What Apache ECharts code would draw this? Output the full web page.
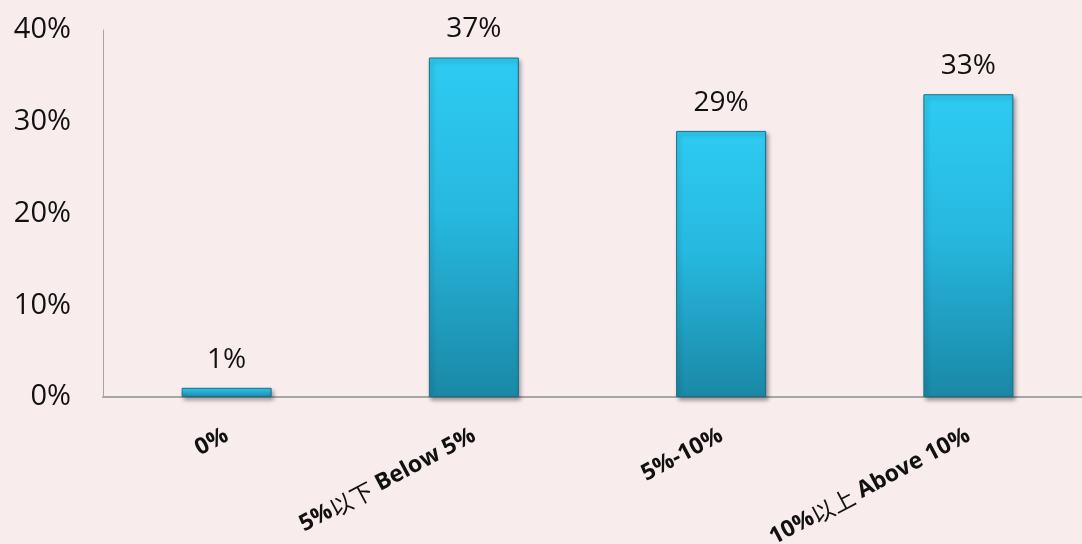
<!DOCTYPE html>
<html lang="zh">
<head>
    <meta charset="UTF-8">
    <title>Bar chart</title>
    <script src="https://cdn.jsdelivr.net/npm/echarts@6/dist/echarts.min.js"></script>
    <style>
        html, body { margin: 0; padding: 0; background: #f9eced; }
        #pic { width: 1082px; height: 544px; }
    </style>
</head>
<body>
    <div id="pic"></div>
    <script>
        // 資料
        var categories = ['0%', '5%以下 Below 5%', '5%-10%', '10%以上 Above 10%'];
        var values = [1, 37, 29, 33];
        var yTicks = [0, 10, 20, 30, 40];

        var myChart = echarts.init(document.getElementById('pic'));

        // 中文字用細體, 其他粗體
        function splitLabel(text) {
            return text.replace(/([\u4e00-\u9fff]+)/g, '{cjk|$1}');
        }

        var option = {
            backgroundColor: '#f9eced',
            animation: false,
            grid: { left: 103, width: 989, top: 30, bottom: 147, outerBoundsMode: 'none' },
            xAxis: {
                type: 'category',
                data: categories,
                axisLine: { lineStyle: { color: '#a6a6a6', width: 2 } },
                axisTick: { show: false },
                axisLabel: {
                    rotate: 28,
                    margin: 37,
                    interval: 0,
                    color: '#111',
                    fontWeight: 'bold',
                    fontSize: 23,
                    fontFamily: '"Open Sans", sans-serif',
                    formatter: splitLabel,
                    rich: {
                        cjk: {
                            fontWeight: 'normal',
                            fontSize: 23,
                            color: '#111',
                            fontFamily: '"Noto Sans CJK TC", sans-serif'
                        }
                    }
                }
            },
            yAxis: {
                type: 'value',
                min: yTicks[0],
                max: yTicks[yTicks.length - 1],
                interval: 10,
                splitLine: { show: false },
                axisLine: { show: true, lineStyle: { color: '#a6a6a6', width: 1 } },
                axisTick: { show: false },
                axisLabel: {
                    formatter: '{value}%',
                    margin: 32,
                    color: '#111',
                    fontSize: 29,
                    fontFamily: '"Open Sans", sans-serif'
                }
            },
            series: [{
                type: 'bar',
                data: values,
                barWidth: 90,
                itemStyle: {
                    color: new echarts.graphic.LinearGradient(0, 0, 0, 1, [
                        { offset: 0, color: '#2ecbf2' },
                        { offset: 0.45, color: '#27b9e0' },
                        { offset: 1, color: '#1a88a6' }
                    ]),
                    borderColor: '#176f88',
                    borderWidth: 1,
                    shadowColor: 'rgba(0,0,0,0.35)',
                    shadowBlur: 4,
                    shadowOffsetX: 2,
                    shadowOffsetY: 3
                },
                label: {
                    show: true,
                    position: 'top',
                    distance: 14,
                    formatter: '{c}%',
                    color: '#111',
                    fontSize: 28,
                    fontFamily: '"Open Sans", sans-serif'
                }
            }]
        };

        myChart.setOption(option);
    </script>
</body>
</html>
